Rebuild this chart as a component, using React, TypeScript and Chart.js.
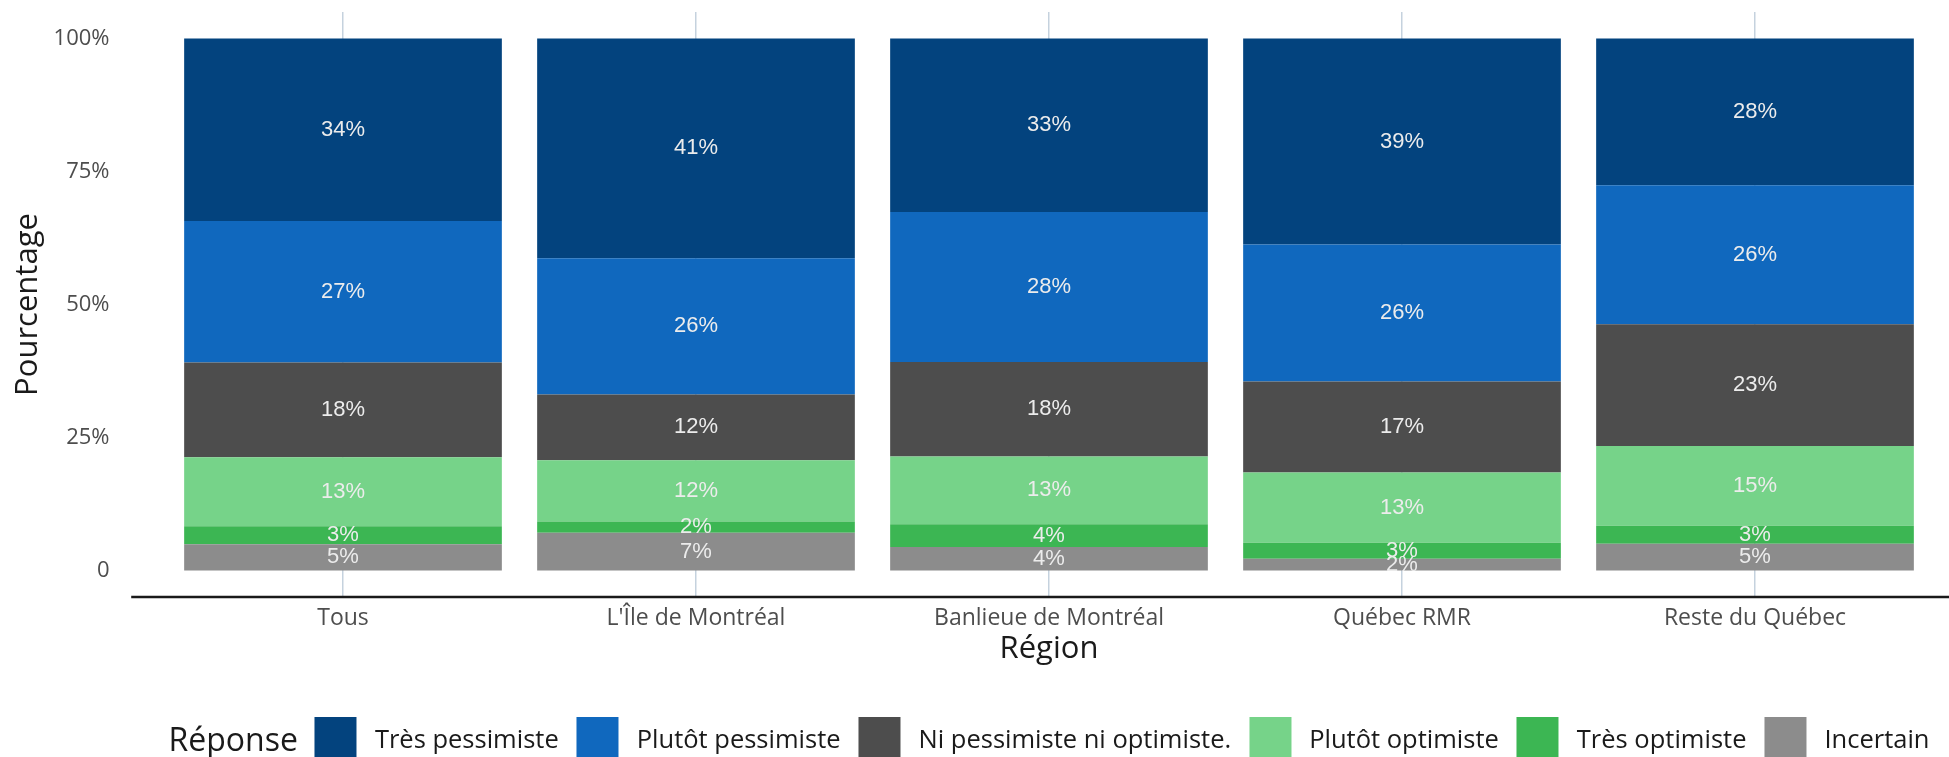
import React, { useEffect, useRef } from 'react';
import { Chart, registerables } from 'chart.js';

Chart.register(...registerables);

const regions = ['Tous', "L'Île de Montréal", 'Banlieue de Montréal', 'Québec RMR', 'Reste du Québec'];

// values (percent), stacked from bottom to top
const incertain = [4.9, 7.1, 4.4, 2.2, 5.0];
const tresOptimiste = [3.4, 2.1, 4.3, 3.0, 3.4];
const plutotOptimiste = [13.0, 11.5, 12.7, 13.2, 15.0];
const niNi = [17.8, 12.4, 17.8, 17.1, 22.9];
const plutotPessimiste = [26.6, 25.6, 28.2, 25.8, 26.1];
const tresPessimiste = [34.3, 41.3, 32.6, 38.7, 27.6];

const seriesNames = [
  'Incertain',
  'Très optimiste',
  'Plutôt optimiste',
  'Ni pessimiste ni optimiste.',
  'Plutôt pessimiste',
  'Très pessimiste',
];
const seriesColors = ['#8c8c8c', '#3cb653', '#76d389', '#4d4d4d', '#1068be', '#03437e'];
const seriesValues = [incertain, tresOptimiste, plutotOptimiste, niNi, plutotPessimiste, tresPessimiste];

const yTicks = [0, 25, 50, 75, 100];
const legendTitle = 'Réponse';

const FONT = '"Open Sans", "Noto Sans", sans-serif';

const segLabels = {
  id: 'segLabels',
  afterDatasetsDraw(chart: any) {
    const ctx = chart.ctx;
    ctx.save();
    ctx.font = '22px "Liberation Sans", Arial, sans-serif';
    ctx.fillStyle = '#ececec';
    ctx.textAlign = 'center';
    ctx.textBaseline = 'middle';
    chart.data.datasets.forEach((ds: any, i: number) => {
      const meta = chart.getDatasetMeta(i);
      meta.data.forEach((el: any, j: number) => {
        const v = ds.data[j];
        const p = el.getProps(['x', 'y', 'base'], true);
        ctx.fillText(Math.round(v) + '%', p.x, (p.y + p.base) / 2);
      });
    });
    ctx.restore();
  },
};

const axisLine = {
  id: 'axisLine',
  afterDraw(chart: any) {
    const { ctx, chartArea } = chart;
    const xs = chart.scales.x;
    const step = xs.getPixelForValue(1) - xs.getPixelForValue(0);
    const start = xs.getPixelForValue(0) - 0.6 * step;
    ctx.save();
    ctx.strokeStyle = '#1a1a1a';
    ctx.lineWidth = 2.5;
    ctx.beginPath();
    ctx.moveTo(start, chartArea.bottom);
    ctx.lineTo(chart.width, chartArea.bottom);
    ctx.stroke();
    ctx.restore();
  },
};

export default function App() {
  const ref = useRef<HTMLCanvasElement>(null);

  useEffect(() => {
    const chart = new Chart(ref.current as HTMLCanvasElement, {
      type: 'bar',
      data: {
        labels: regions,
        datasets: seriesNames.map((name, i) => ({
          label: name,
          data: seriesValues[i],
          backgroundColor: seriesColors[i],
          borderWidth: 0,
          categoryPercentage: 1,
          barPercentage: 0.9,
        })),
      },
      options: {
        responsive: false,
        maintainAspectRatio: false,
        animation: false,
        devicePixelRatio: 1,
        layout: { padding: { left: 0, right: 17.5, top: 12, bottom: 0 } },
        plugins: {
          legend: { display: false },
          tooltip: { enabled: false },
        },
        scales: {
          x: {
            type: 'category',
            stacked: true,
            offset: true,
            grid: { display: true, offset: false, color: '#c5d2de', lineWidth: 1.5, drawTicks: false },
            border: { display: false },
            ticks: { font: { family: FONT, size: 23 }, color: '#4d4d4d', padding: 8 },
            title: {
              display: true,
              text: 'Région',
              font: { family: FONT, size: 31 },
              color: '#1a1a1a',
              padding: { top: 0, bottom: 89 },
            },
            afterFit: (s: any) => {
              s.height = 160;
              s.paddingLeft = 0;
              s.paddingRight = 0;
            },
          },
          y: {
            type: 'linear',
            stacked: true,
            min: -5,
            max: 105,
            grid: { display: false, drawTicks: false },
            border: { display: false },
            afterBuildTicks: (s: any) => {
              s.ticks = yTicks.map((v) => ({ value: v }));
            },
            ticks: {
              font: { family: FONT, size: 22 },
              color: '#4d4d4d',
              padding: 57,
              callback: (v: any) => (v === 0 ? '0' : v + '%'),
            },
            title: {
              display: true,
              text: 'Pourcentage',
              font: { family: FONT, size: 31 },
              color: '#1a1a1a',
              padding: { top: 10, bottom: 0 },
            },
            afterFit: (s: any) => {
              s.width = 166.5;
              s.paddingTop = 0;
              s.paddingBottom = 0;
            },
          },
        },
      },
      plugins: [segLabels, axisLine],
    });
    return () => chart.destroy();
  }, []);

  const legendOrder = [5, 4, 3, 2, 1, 0];

  return (
    <div
      style={{
        position: 'absolute',
        left: 0,
        top: 0,
        width: 1949,
        height: 757,
        overflow: 'hidden',
        background: '#fff',
      }}
    >
      <canvas ref={ref} width={1949} height={757} style={{ display: 'block', width: 1949, height: 757 }} />
      <div
        style={{
          position: 'absolute',
          top: 717,
          left: 1049,
          transform: 'translateX(-50%)',
          display: 'flex',
          alignItems: 'center',
          whiteSpace: 'nowrap',
          height: 42,
          fontFamily: FONT,
          color: '#1a1a1a',
        }}
      >
        <span style={{ fontSize: 32, marginRight: 17 }}>{legendTitle}</span>
        {legendOrder.map((i, k) => (
          <React.Fragment key={i}>
            <span
              style={{
                display: 'inline-block',
                width: 42,
                height: 42,
                background: seriesColors[i],
                marginRight: 18,
                marginLeft: k === 0 ? 0 : 18,
              }}
            />
            <span style={{ fontSize: 25.5 }}>{seriesNames[i]}</span>
          </React.Fragment>
        ))}
      </div>
    </div>
  );
}
